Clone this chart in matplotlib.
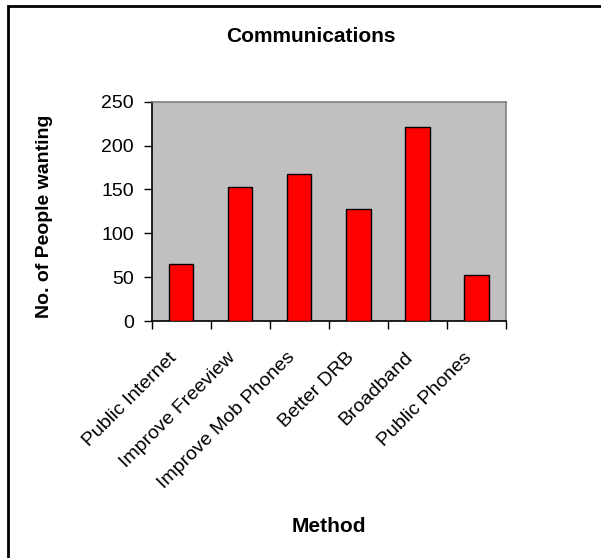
import matplotlib.pyplot as plt
from matplotlib.patches import Rectangle
from matplotlib.transforms import ScaledTranslation

plt.rcParams['font.family'] = ['Liberation Sans', 'DejaVu Sans']

methods = ['Public Internet', 'Improve Freeview', 'Improve Mob Phones',
           'Better DRB', 'Broadband', 'Public Phones']
people = [65, 153, 168, 128, 221, 53]
yticks = [0, 50, 100, 150, 200, 250]

fig = plt.figure(figsize=(6.01, 5.58), dpi=100)
ax = fig.add_axes([0.2524, 0.4247, 0.5896, 0.393])

x = list(range(len(methods)))
ax.bar(x, people, width=0.41, color='#FF0000', edgecolor='black', linewidth=1.0, zorder=3)

ax.set_facecolor('#C0C0C0')
ax.set_xlim(-0.5, len(methods) - 0.5)
ax.set_ylim(0, 250)
ax.set_yticks(yticks)
ax.tick_params(axis='y', direction='out', length=6, width=1, labelsize=14, pad=7)

# ticks sit between the categories, labels drawn separately below
ax.set_xticks([i - 0.5 for i in range(len(methods) + 1)])
ax.set_xticklabels([])
ax.tick_params(axis='x', direction='out', length=6, width=1)

for side in ['top', 'right']:
    ax.spines[side].set_color('#808080')
    ax.spines[side].set_linewidth(1.2)
for side in ['left', 'bottom']:
    ax.spines[side].set_color('black')
    ax.spines[side].set_linewidth(1.2)

# rotated category labels, end of text a little left of the bar centre
shift = ScaledTranslation(-0.13, 0, fig.dpi_scale_trans)
for i, name in enumerate(methods):
    ax.text(i, -0.128, name, transform=ax.get_xaxis_transform() + shift,
            rotation=45, rotation_mode='anchor', ha='right', va='top', fontsize=14)

fig.text(0.517, 0.935, 'Communications', ha='center', va='center',
         fontsize=15, fontweight='bold')
fig.text(0.074, 0.613, 'No. of People wanting', ha='center', va='center',
         rotation=90, fontsize=14, fontweight='bold')
fig.text(0.548, 0.057, 'Method', ha='center', va='center',
         fontsize=15, fontweight='bold')

# chart border (right/bottom edges fall outside the picture)
fig.patches.append(Rectangle((8 / 601, -0.1), 1.2, 1.1 - 6.5 / 558,
                             transform=fig.transFigure, fill=False,
                             edgecolor='black', linewidth=2))

fig.savefig('out.png', dpi=100)
